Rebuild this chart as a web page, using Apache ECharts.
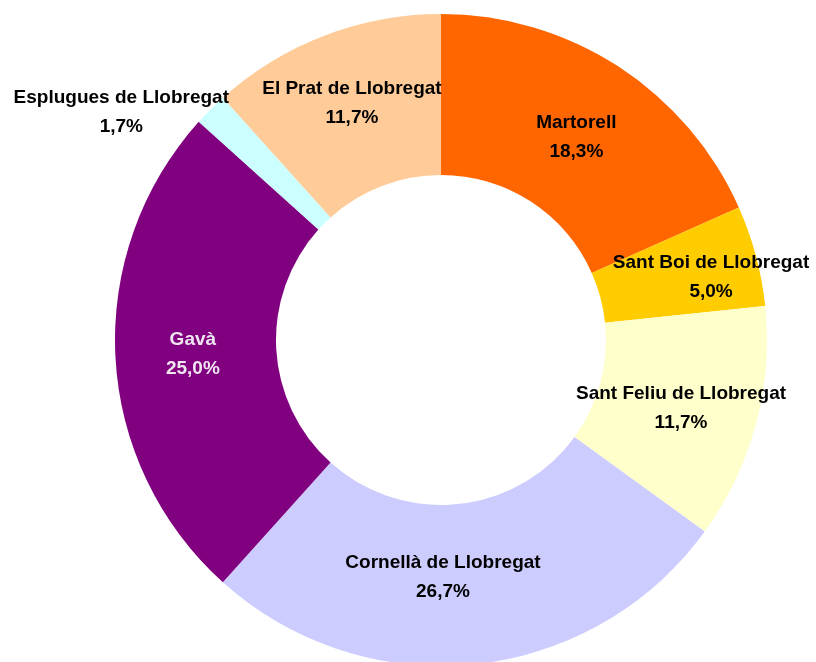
<!DOCTYPE html>
<html><head><meta charset="utf-8">
<script src="https://cdn.jsdelivr.net/npm/echarts@6/dist/echarts.min.js"></script>
<style>html,body{margin:0;padding:0;background:#fff}#c{width:816px;height:662px}</style>
</head><body><div id="c"></div>
<script>
const categories = ["Martorell","Sant Boi de Llobregat","Sant Feliu de Llobregat","Cornellà de Llobregat","Gavà","Esplugues de Llobregat","El Prat de Llobregat"];
const values = [11,3,7,16,15,1,7];
const percentLabels = ["18,3%","5,0%","11,7%","26,7%","25,0%","1,7%","11,7%"];
const colors = ["#FF6600","#FFCC00","#FFFFCC","#CCCCFF","#800080","#CCFFFF","#FFCC99"];
const labelOffsets = [[0,6],[30,2],[0,4],[-24,-10],[0,1],[-144,-52],[0,-5]];
const labelColors = ["#000","#000","#000","#000","#F0E6F0","#000","#000"];

const chart = echarts.init(document.getElementById('c'), null, {renderer:'canvas'});
chart.setOption({
  animation:false,
  series:[{
    type:'pie',
    center:[441,340],
    radius:[165,326],
    startAngle:90,
    clockwise:true,
    avoidLabelOverlap:false,
    itemStyle:{borderWidth:0},
    label:{
      show:true, position:'inside',
      fontFamily:'Liberation Sans, Arial, sans-serif', fontWeight:'bold', fontSize:19,
      lineHeight:29, color:'#000',
      formatter:p=>p.name+'\n'+percentLabels[p.dataIndex]
    },
    labelLine:{show:false},
    emphasis:{disabled:true},
    data:categories.map((n,i)=>({name:n,value:values[i],itemStyle:{color:colors[i]},
      label:{offset:labelOffsets[i],color:labelColors[i]}}))
  }]
});
</script></body></html>
